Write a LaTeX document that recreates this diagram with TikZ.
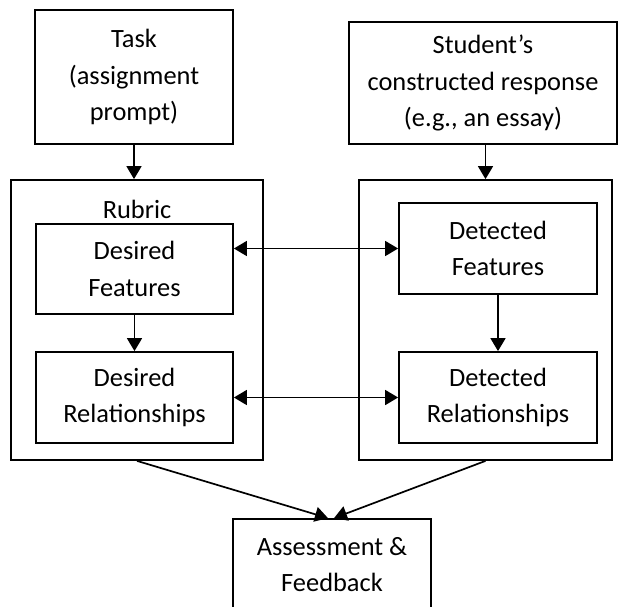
\documentclass[tikz,border=0pt]{standalone}
\usepackage{fontspec}
\setmainfont{Carlito}
\usetikzlibrary{arrows.meta}
\begin{document}
\begin{tikzpicture}[x=1pt,y=-1pt,
  box/.style={draw, line width=1.8pt, inner sep=0pt, align=center,
    font=\fontsize{26.4}{36.5}\selectfont},
  link/.style={line width=1.7pt, -{Triangle[length=13pt,width=15pt]}},
  twoway/.style={line width=1.7pt, {Triangle[length=13pt,width=15pt]}-{Triangle[length=13pt,width=15pt]}}]
\useasboundingbox (0,0) rectangle (618,606);
\clip (0,0) rectangle (618,606);
% top inputs
\node[box, minimum width=198pt, minimum height=134pt] (task) at (134,77)
  {Task\\(assignment\\prompt)};
\node[box, minimum width=268pt, minimum height=122pt] (student) at (483,83)
  {Student’s\\constructed response\\(e.g., an essay)};
% rubric side
\node[box, minimum width=252pt, minimum height=280pt] (rubric) at (137,320) {};
\node[font=\fontsize{26.4}{36.5}\selectfont, anchor=base] (rubriclabel) at (137,218) {Rubric};
\node[box, minimum width=197pt, minimum height=90pt] (df) at (134.5,269) {Desired\\Features};
\node[box, minimum width=197pt, minimum height=91pt] (dr) at (134.5,397.5) {Desired\\Relationships};
% response side
\node[box, minimum width=253pt, minimum height=280pt] (detected) at (485.5,320) {};
\node[box, minimum width=198pt, minimum height=91pt] (detf) at (498,248.5) {Detected\\Features};
\node[box, minimum width=198pt, minimum height=91pt] (detr) at (498,397.5) {Detected\\Relationships};
% result
\node[box, minimum width=198pt, minimum height=91pt] (assess) at (332,564.5) {Assessment \&\\Feedback};
% connectors
\draw[link] (task.south) -- (task.south |- rubric.north);
\draw[link] (detected.north |- student.south) -- (detected.north);
\draw[link] (df.south) -- (dr.north);
\draw[link] (detf.south) -- (detr.north);
\draw[twoway] (detf.west -| df.east) -- (detf.west);
\draw[twoway] (dr.east) -- (detr.west);
\draw[link] (rubric.south) -- ([xshift=-4pt]assess.north);
\draw[link] (detected.south) -- ([xshift=2pt]assess.north);
\end{tikzpicture}
\end{document}
